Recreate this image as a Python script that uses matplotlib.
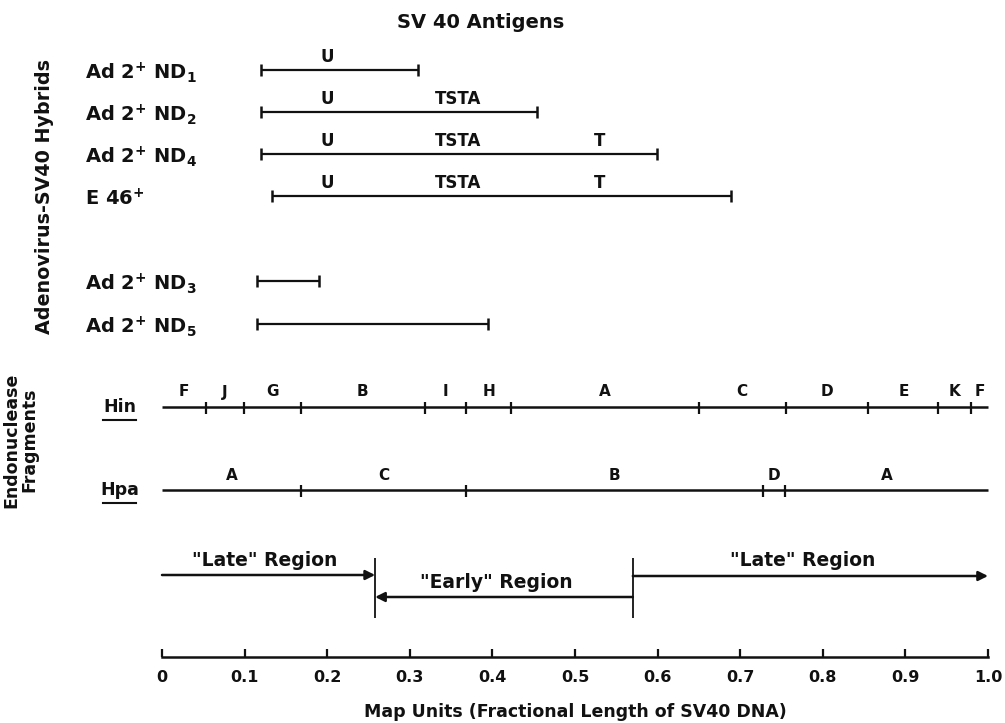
import numpy as np
import matplotlib
matplotlib.use('Agg')
import matplotlib.pyplot as plt

# SV40 map: adenovirus-SV40 hybrids, endonuclease fragments, early/late regions

plt.rcParams['font.family'] = ['DejaVu Sans']
plt.rcParams['font.weight'] = 'bold'
plt.rcParams['mathtext.fontset'] = 'custom'
plt.rcParams['mathtext.rm'] = 'DejaVu Sans:bold'
plt.rcParams['mathtext.it'] = 'DejaVu Sans:bold'
plt.rcParams['mathtext.bf'] = 'DejaVu Sans:bold'

INK = '#111111'

# ==============================================================
# data (map units, fraction of SV40 DNA length)

hybrid_names = ['Ad 2$^{+}$ ND$_{1}$', 'Ad 2$^{+}$ ND$_{2}$', 'Ad 2$^{+}$ ND$_{4}$',
                'E 46$^{+}$', 'Ad 2$^{+}$ ND$_{3}$', 'Ad 2$^{+}$ ND$_{5}$']
hybrid_start = [0.12, 0.12, 0.12, 0.133, 0.115, 0.115]
hybrid_end = [0.31, 0.454, 0.599, 0.689, 0.19, 0.395]
hybrid_antigens = [['U'], ['U', 'TSTA'], ['U', 'TSTA', 'T'], ['U', 'TSTA', 'T'], [], []]

antigen_names = ['U', 'TSTA', 'T']
antigen_pos = [0.20, 0.358, 0.53]

hin_cuts = [0.053, 0.099, 0.168, 0.318, 0.368, 0.423, 0.650, 0.755, 0.855, 0.940, 0.980]
hin_fragments = ['F', 'J', 'G', 'B', 'I', 'H', 'A', 'C', 'D', 'E', 'K', 'F']

hpa_cuts = [0.168, 0.368, 0.727, 0.754]
hpa_fragments = ['A', 'C', 'B', 'D', 'A']

early_start = 0.258
early_end = 0.57

tick_values = [0, 0.1, 0.2, 0.3, 0.4, 0.5, 0.6, 0.7, 0.8, 0.9, 1.0]
tick_labels = ['0', '0.1', '0.2', '0.3', '0.4', '0.5', '0.6', '0.7', '0.8', '0.9', '1.0']

# ==============================================================
# layout (pixel rows, figure is 1005 x 723)

W, H = 1005, 723
x0_px, x1_px = 162, 988
px = 1.0 / (x1_px - x0_px)   # map units per pixel

row_y = [70, 112, 154, 196, 281, 324]
hin_y = 407
hpa_y = 490

fig = plt.figure(figsize=(W / 100, H / 100), dpi=100)
ax = fig.add_axes([0, 0, 1, 1])
ax.set_xlim(-x0_px * px, (W - x0_px) * px)
ax.set_ylim(H, 0)
ax.axis('off')

# title
ax.text(0.386, 22, 'SV 40 Antigens', ha='center', va='center', fontsize=14, color=INK)

# hybrid bars
for name, s, e, ags, y in zip(hybrid_names, hybrid_start, hybrid_end, hybrid_antigens, row_y):
    ax.plot([s, e], [y, y], color=INK, lw=1.6, marker='|', markersize=9, mew=1.8,
            solid_capstyle='butt')
    ax.text(-0.093, y + 3, name, ha='left', va='center', fontsize=14, color=INK)
    for ag in ags:
        ax.text(antigen_pos[antigen_names.index(ag)], y - 13, ag, ha='center',
                va='center', fontsize=12, color=INK)

ax.text(-0.142, 197, 'Adenovirus-SV40 Hybrids', rotation=90, ha='center', va='center',
        fontsize=13.8, color=INK)


# endonuclease fragment lines
def fragment_line(y, cuts, names, label):
    ax.plot([0, 1], [y, y], color=INK, lw=1.8, solid_capstyle='butt')
    ax.plot(cuts, [y + 1] * len(cuts), ls='none', marker='|', markersize=9, mew=1.6, color=INK)
    bounds = np.concatenate([[0.0], cuts, [1.0]])
    mids = (bounds[:-1] + bounds[1:]) / 2
    for m, n in zip(mids, names):
        ax.text(m, y - 15, n, ha='center', va='center', fontsize=11, color=INK)
    ax.text(-0.051, y, label, ha='center', va='center', fontsize=12.5, color=INK)
    ax.plot([-0.071, -0.031], [y + 13, y + 13], color=INK, lw=1.5)


fragment_line(hin_y, hin_cuts, hin_fragments, 'Hin')
fragment_line(hpa_y, hpa_cuts, hpa_fragments, 'Hpa')

ax.text(-0.172, 440, 'Endonuclease\nFragments', rotation=90, ha='center', va='center',
        fontsize=12.5, color=INK, linespacing=1.0)

# early / late regions
arrow = dict(arrowstyle='-|>', lw=1.8, color=INK, mutation_scale=14, shrinkA=0, shrinkB=0)
ax.annotate('', xy=(early_start, 575), xytext=(0, 575), arrowprops=arrow)
ax.annotate('', xy=(early_start, 597), xytext=(early_end, 597), arrowprops=arrow)
ax.annotate('', xy=(1.0, 576), xytext=(early_end, 576), arrowprops=arrow)
ax.vlines([early_start, early_end], 558, 618, color=INK, lw=1.3)
ax.text(0.124, 561, '"Late" Region', ha='center', va='center', fontsize=13.5, color=INK)
ax.text(0.405, 582, '"Early" Region', ha='center', va='center', fontsize=13.5, color=INK)
ax.text(0.776, 561, '"Late" Region', ha='center', va='center', fontsize=13.5, color=INK)

# map-unit scale
sc = fig.add_axes([x0_px / W, 1 - 657 / H, (x1_px - x0_px) / W, 1e-4])
sc.set_xlim(0, 1)
for side in ['top', 'left', 'right']:
    sc.spines[side].set_visible(False)
sc.spines['bottom'].set_linewidth(1.8)
sc.spines['bottom'].set_color(INK)
sc.set_yticks([])
sc.set_xticks(tick_values)
sc.set_xticklabels(tick_labels, fontsize=11.5, fontweight='bold')
sc.tick_params(axis='x', direction='in', length=6, width=1.6, color=INK, pad=9, labelcolor=INK)
sc.set_xlabel('Map Units (Fractional Length of SV40 DNA)', fontsize=12.5, fontweight='bold',
              labelpad=13, color=INK)

fig.savefig('out.png', dpi=100, facecolor='white')
